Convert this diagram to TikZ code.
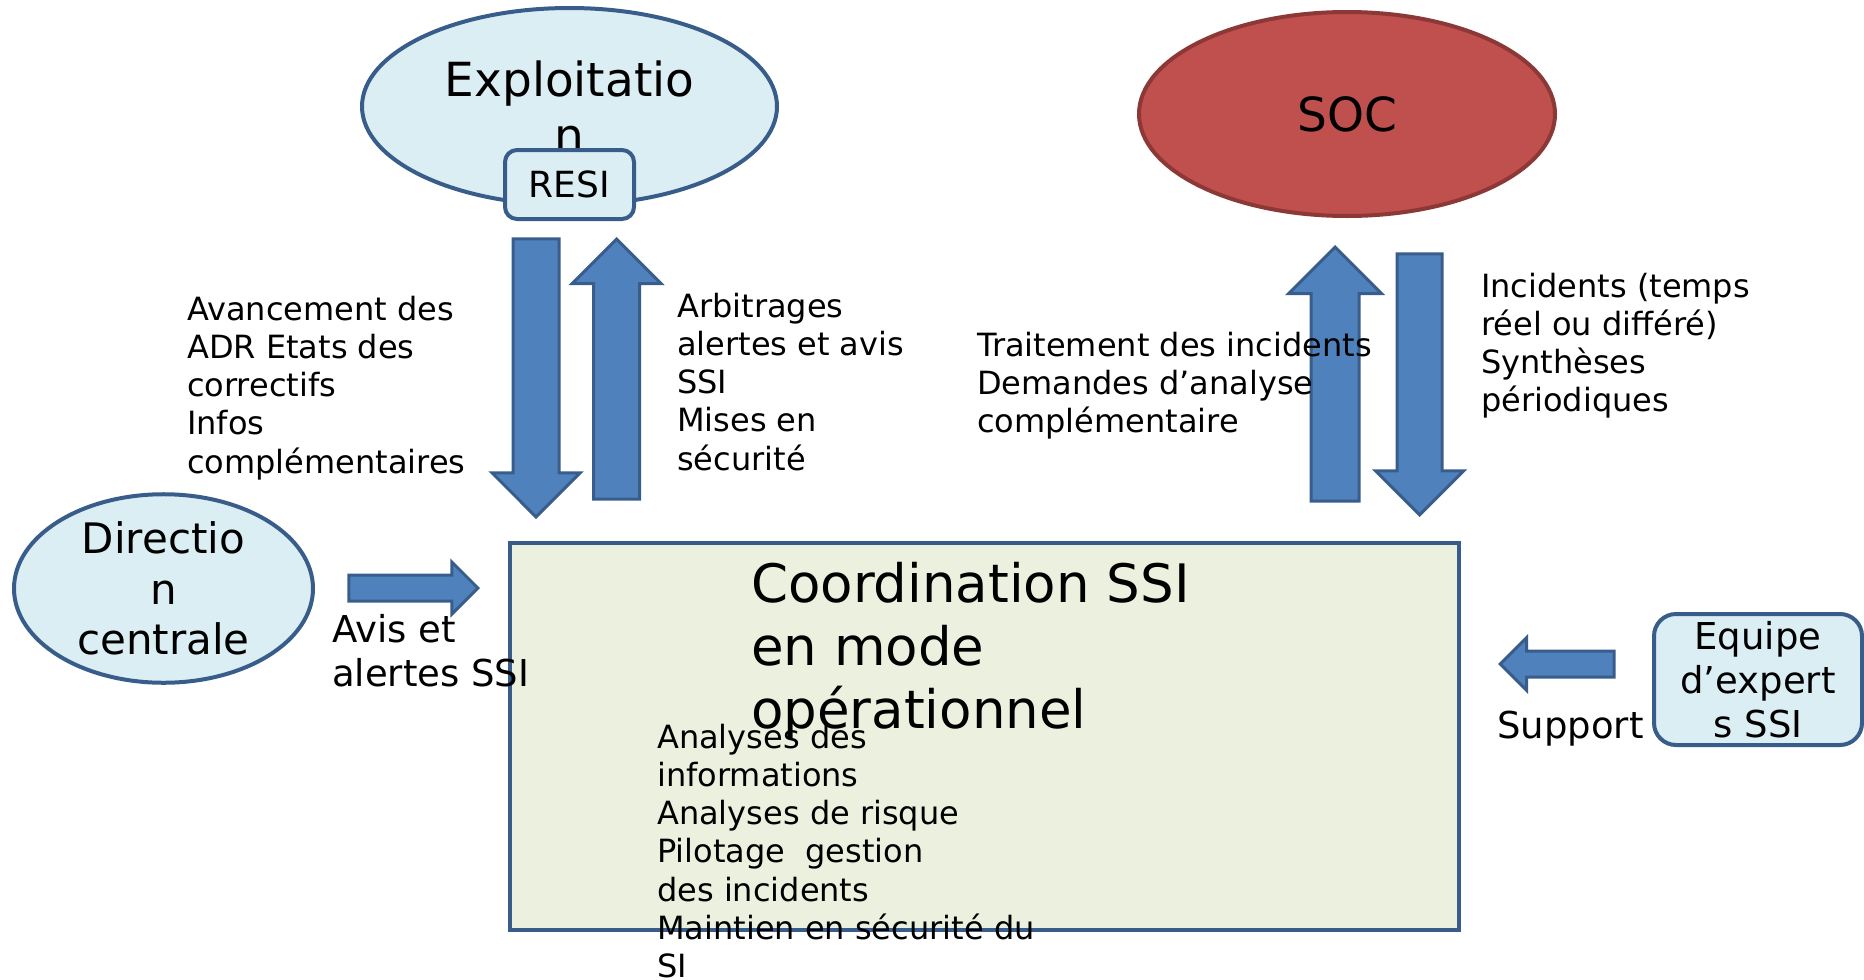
\documentclass[tikz,border=0pt]{standalone}
\usepackage{fontspec}
\setmainfont{DejaVu Sans}
\usetikzlibrary{shapes.geometric,shapes.arrows}
\definecolor{bordbleu}{HTML}{385D8A}
\definecolor{fondbleu}{HTML}{DBEEF4}
\definecolor{flechebleu}{HTML}{4F81BD}
\definecolor{fondvert}{HTML}{EBF1DE}
\definecolor{rougesoc}{HTML}{C0504D}
\definecolor{bordrouge}{HTML}{8C3836}
\newcommand{\taille}[2]{\fontsize{#1pt}{#2pt}\selectfont}

\begin{document}
\begin{tikzpicture}[x=1pt,y=-1pt,line join=miter,
  ovale/.style={ellipse,draw=bordbleu,fill=fondbleu,line width=4pt,inner sep=0pt,align=center},
  boite/.style={rectangle,rounded corners=#1,draw=bordbleu,fill=fondbleu,line width=4pt,inner sep=0pt,align=center},
  fleche/.style 2 args={single arrow,anchor=tip,draw=bordbleu,fill=flechebleu,line width=3pt,inner xsep=0pt,inner ysep=#1,single arrow tip angle=90,single arrow head extend=#2},
  texte/.style={anchor=base west,inner sep=0pt,align=left}]
\useasboundingbox (0,0) rectangle (1864,980);
\node[ovale,minimum width=415pt,minimum height=197pt,font=\taille{47}{56}] (expl) at (569.5,106.5) {Exploitatio\\n};
\node[boite=12pt,minimum width=129pt,minimum height=69pt,font=\taille{36}{43}] (resi) at (569.5,184.5) {RESI};
\node[ovale,draw=bordrouge,fill=rougesoc,minimum width=416pt,minimum height=204pt,font=\taille{47}{56}] (soc) at (1347,114) {SOC};
\node[ovale,minimum width=299pt,minimum height=181pt,font=\taille{42}{50.4}] (direction) at (163.5,588.5) {Directio\\n\\centrale};
\node[boite=22pt,minimum width=208pt,minimum height=131pt,font=\taille{37}{44}] (equipe) at (1758,679.5) {Equipe\\d’expert\\s SSI};
% fleches (placees par la pointe)
\node[fleche={21.5pt}{21pt},rotate=-90,minimum height=278pt] (adr) at (536,519) {};
\node[fleche={21.5pt}{21.5pt},rotate=90,minimum height=260pt] (arb) at (616.5,237) {};
\node[fleche={22.5pt}{22.5pt},rotate=90,minimum height=254pt] (trt) at (1335,245) {};
\node[fleche={21pt}{21.5pt},rotate=-90,minimum height=261pt] (inc) at (1419.5,517) {};
\node[fleche={11.5pt}{13pt},minimum height=129pt] (avis) at (480,588) {};
\node[fleche={11.5pt}{13.5pt},rotate=180,minimum height=114pt] (sup) at (1498,664) {};
\node[draw=bordbleu,fill=fondvert,line width=4pt,minimum width=949pt,minimum height=387pt,inner sep=0pt] (coord) at (984.5,736.5) {};
% textes (ancre sur la derniere ligne)
\node[texte,font=\taille{32}{38.3}] (avancement) at (187,473.2) {Avancement des\\ADR Etats des\\correctifs\\Infos\\complémentaires};
\node[texte,font=\taille{32}{38.3}] (arbitrages) at (677,470.2) {Arbitrages\\alertes et avis\\SSI\\Mises en\\sécurité};
\node[texte,font=\taille{32}{38.3}] (traitement) at (977,432.6) {Traitement des incidents\\Demandes d’analyse\\complémentaire};
\node[texte,font=\taille{32}{38.3}] (incidents) at (1481,411.9) {Incidents (temps\\réel ou différé)\\Synthèses\\périodiques};
\node[texte,font=\taille{37}{44.5}] (avistxt) at (332,686.5) {Avis et\\alertes SSI};
\node[texte,font=\taille{37}{44}] (support) at (1497,738) {Support};
\node[texte,font=\taille{53}{63}] (titre) at (751,728) {Coordination SSI\\en mode\\opérationnel};
\node[texte,font=\taille{32}{38.3}] (analyses) at (657,977.8) {Analyses des\\informations\\Analyses de risque\\Pilotage~ gestion\\des incidents\\Maintien en sécurité du\\SI};
\end{tikzpicture}
\end{document}
